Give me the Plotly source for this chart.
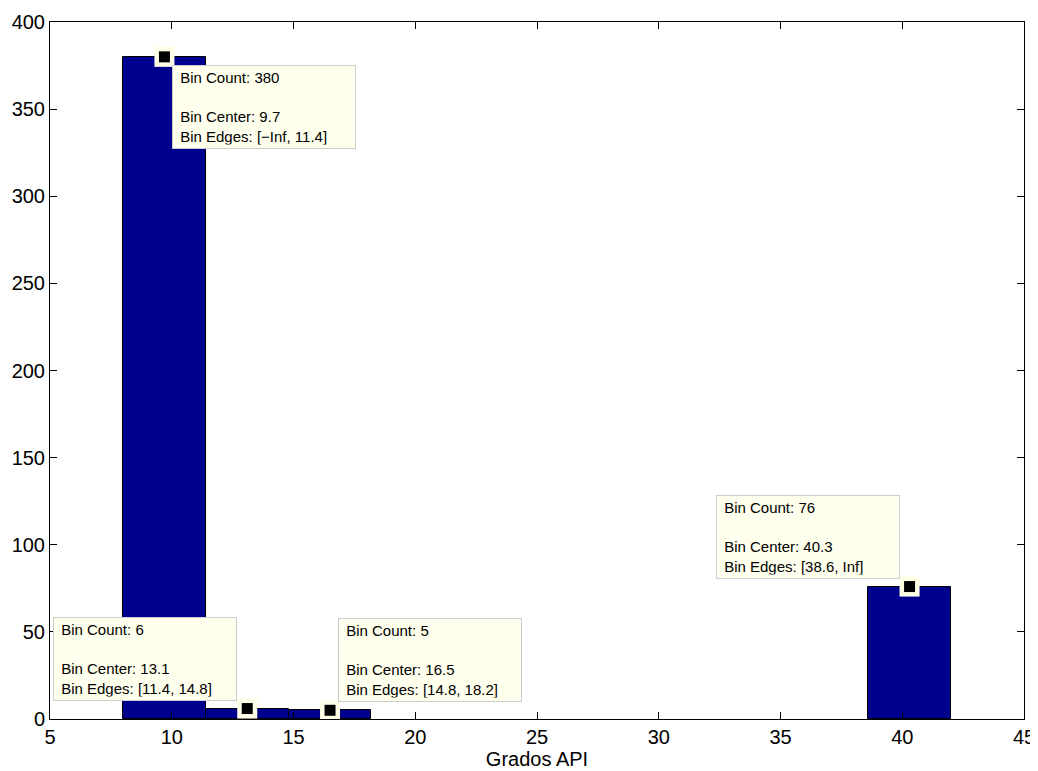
import plotly.graph_objects as go

# Histogram data
bin_centers = [9.7, 13.1, 16.5, 19.9, 23.3, 26.7, 30.1, 33.5, 36.9, 40.3]
bin_counts = [380, 6, 5, 0, 0, 0, 0, 0, 0, 76]
bin_width = 3.4

# Data tips
tip_x = [9.7, 13.1, 16.5, 40.3]
tip_y = [380, 6, 5, 76]
tip_edges = ["[\u2212Inf, 11.4]", "[11.4, 14.8]", "[14.8, 18.2]", "[38.6, Inf]"]
tip_layout = [("left", "top", 8, -8), ("right", "bottom", -10, 8),
              ("left", "bottom", 8, 8), ("right", "bottom", -10, 8)]

x_ticks = [5, 10, 15, 20, 25, 30, 35, 40, 45]
y_ticks = [0, 50, 100, 150, 200, 250, 300, 350, 400]

FONT = "Liberation Sans, Arial, sans-serif"
NB = "\u00a0"

bx = [c for c, n in zip(bin_centers, bin_counts) if n > 0]
by = [n for n in bin_counts if n > 0]

fig = go.Figure()
fig.add_trace(go.Bar(
    x=bx, y=by, width=[bin_width] * len(bx),
    marker=dict(color="#00008F", line=dict(color="black", width=1)),
    hoverinfo="skip"))
fig.add_trace(go.Scatter(
    x=tip_x, y=tip_y, mode="markers", cliponaxis=False,
    marker=dict(symbol="square", size=20, color="#FFFFE6", line=dict(width=0)),
    hoverinfo="skip"))
fig.add_trace(go.Scatter(
    x=tip_x, y=tip_y, mode="markers", cliponaxis=False,
    marker=dict(symbol="square", size=11, color="black", line=dict(width=0)),
    hoverinfo="skip"))

for (xv, yv, edges, (xa, ya, xs, ys)) in zip(tip_x, tip_y, tip_edges, tip_layout):
    fig.add_annotation(
        x=xv, y=yv, xref="x", yref="y", showarrow=False,
        xanchor=xa, yanchor=ya, xshift=xs, yshift=ys,
        text=(f"{NB}Bin Count: {yv}<br><br>{NB}Bin Center: {xv}"
              f"<br>{NB}Bin Edges: {edges}"),
        align="left", width=176,
        font=dict(family=FONT, size=15, color="black"),
        bgcolor="#FFFFED", bordercolor="#CCCCCC", borderwidth=1, borderpad=3)

axis_common = dict(
    showgrid=False, zeroline=False, showline=True, linecolor="black", linewidth=1,
    mirror="ticks", ticks="inside", ticklen=7, tickcolor="black", automargin=False,
    tickfont=dict(family=FONT, size=20, color="black"))

fig.update_xaxes(range=[5, 45], tickvals=x_ticks, ticktext=[str(v) for v in x_ticks],
                 title=dict(text="Grados API", standoff=3,
                            font=dict(family=FONT, size=20, color="black")),
                 **axis_common)
fig.update_yaxes(range=[0, 400], tickvals=y_ticks, ticktext=[str(v) for v in y_ticks],
                 **axis_common)

# The page body has an 8px default margin, so the figure is sized/offset for it.
fig.update_layout(
    width=1030, height=763, autosize=False,
    margin=dict(l=42, r=14, t=14, b=52),
    paper_bgcolor="white", plot_bgcolor="white",
    showlegend=False, bargap=0, hovermode=False)

fig.write_html("out.html")
